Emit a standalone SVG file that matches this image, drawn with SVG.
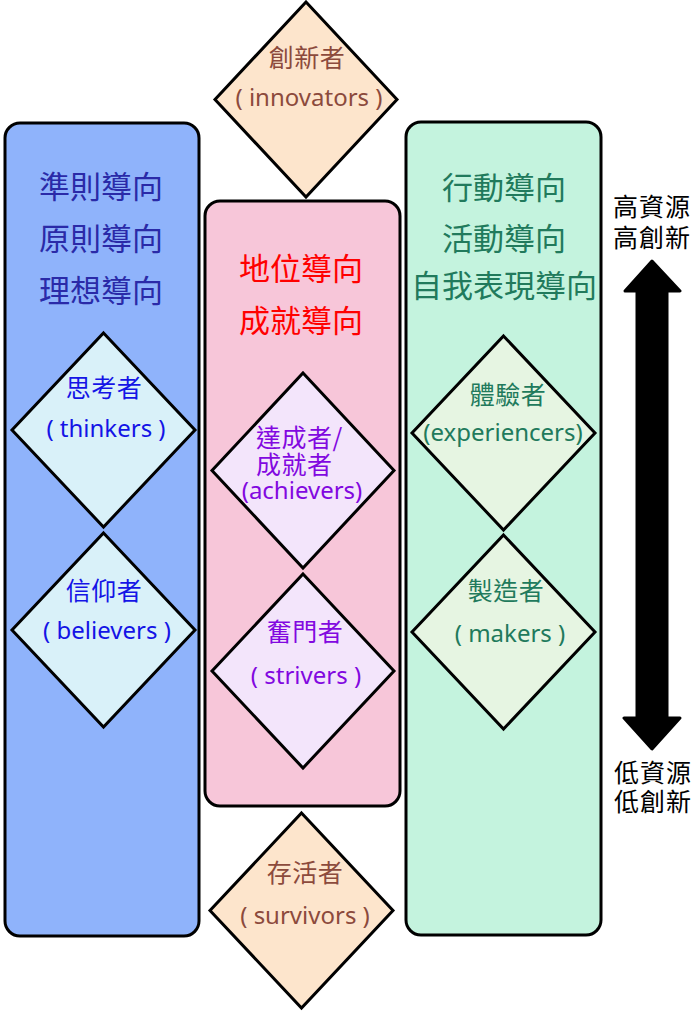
<svg xmlns="http://www.w3.org/2000/svg" width="697" height="1014" viewBox="0 0 697 1014">
<style>
.col{stroke:#000;stroke-width:3}
.dia{stroke:#000;stroke-width:3;stroke-linejoin:miter}
text{font-family:"Noto Sans CJK TC","Noto Sans",sans-serif;text-anchor:middle;dominant-baseline:central}
.title{font-size:31px}
.cj{font-size:25px;letter-spacing:0.5px}
.en{font-size:24px;font-family:"Noto Sans","Open Sans","Noto Sans CJK TC",sans-serif}
.side{font-size:25px;fill:#000;letter-spacing:1px}
</style>
<rect width="697" height="1014" fill="#fff"/>
<g id="col-left">
<rect class="col" x="5" y="123" width="194" height="813" rx="15" fill="#8fb3fb"/>
<text class="title" x="101" y="184" fill="#2a2aa8">準則導向</text>
<text class="title" x="101" y="236" fill="#2a2aa8">原則導向</text>
<text class="title" x="101" y="288" fill="#2a2aa8">理想導向</text>
</g>
<g id="col-mid">
<rect class="col" x="205" y="201" width="195" height="605" rx="15" fill="#f7c6d9"/>
<text class="title" x="301" y="266" fill="#ff0000">地位導向</text>
<text class="title" x="301" y="318" fill="#ff0000">成就導向</text>
</g>
<g id="col-right">
<rect class="col" x="406" y="122" width="195" height="813" rx="15" fill="#c4f3de"/>
<text class="title" x="504" y="185" fill="#217a5c">行動導向</text>
<text class="title" x="504" y="236" fill="#217a5c">活動導向</text>
<text class="title" x="504" y="283" fill="#217a5c">自我表現導向</text>
</g>
<g id="innovators">
<polygon class="dia" points="306,2 397,99.5 306,197 215,99.5" fill="#fde5cc"/>
<text class="cj" x="307" y="56" fill="#8c4a3c">創新者</text>
<text class="en" x="309" y="96" fill="#8c4a3c">( innovators )</text>
</g>
<g id="thinkers">
<polygon class="dia" points="103.5,333 195,430 103.5,527 12,430" fill="#d9f1f9"/>
<text class="cj" x="104" y="386" fill="#1414e6">思考者</text>
<text class="en" x="106" y="427" fill="#1414e6">( thinkers )</text>
</g>
<g id="believers">
<polygon class="dia" points="103.5,533 195,630 103.5,727 12,630" fill="#d9f1f9"/>
<text class="cj" x="104" y="589" fill="#1414e6">信仰者</text>
<text class="en" x="107" y="629" fill="#1414e6">( believers )</text>
</g>
<g id="achievers">
<polygon class="dia" points="303,373 394,470.5 303,568 212,470.5" fill="#f3e5fb"/>
<text class="cj" x="256" y="436" fill="#8208e0" style="text-anchor:start">達成者/</text>
<text class="cj" x="256" y="463" fill="#8208e0" style="text-anchor:start">成就者</text>
<text class="en" x="302" y="489" fill="#8208e0">(achievers)</text>
</g>
<g id="strivers">
<polygon class="dia" points="303,574 394,671 303,768 212,671" fill="#f3e5fb"/>
<text class="cj" x="305" y="630" fill="#8208e0">奮門者</text>
<text class="en" x="306" y="674" fill="#8208e0">( strivers )</text>
</g>
<g id="experiencers">
<polygon class="dia" points="503.5,336 595,433 503.5,530 412,433" fill="#e6f5e2"/>
<text class="cj" x="508" y="393" fill="#217a5c">體驗者</text>
<text class="en" x="503" y="431" fill="#217a5c">(experiencers)</text>
</g>
<g id="makers">
<polygon class="dia" points="503.5,535 595,632 503.5,729 412,632" fill="#e6f5e2"/>
<text class="cj" x="506" y="589" fill="#217a5c">製造者</text>
<text class="en" x="510" y="632" fill="#217a5c">( makers )</text>
</g>
<g id="survivors">
<polygon class="dia" points="301.5,813 393,910.5 301.5,1008 210,910.5" fill="#fde5cc"/>
<text class="cj" x="305" y="871" fill="#8c4a3c">存活者</text>
<text class="en" x="305" y="914" fill="#8c4a3c">( survivors )</text>
</g>
<g id="connectors">
<polygon points="652,261 680,291 667,291 667,718 680,718 652,749 624,718 637,718 637,291 625,291" fill="#000" stroke="#000" stroke-width="3" stroke-linejoin="round"/>
</g>
<g id="labels">
<text class="side" x="652" y="205">高資源</text>
<text class="side" x="652" y="236">高創新</text>
<text class="side" x="653" y="771">低資源</text>
<text class="side" x="653" y="800">低創新</text>
</g>
</svg>
